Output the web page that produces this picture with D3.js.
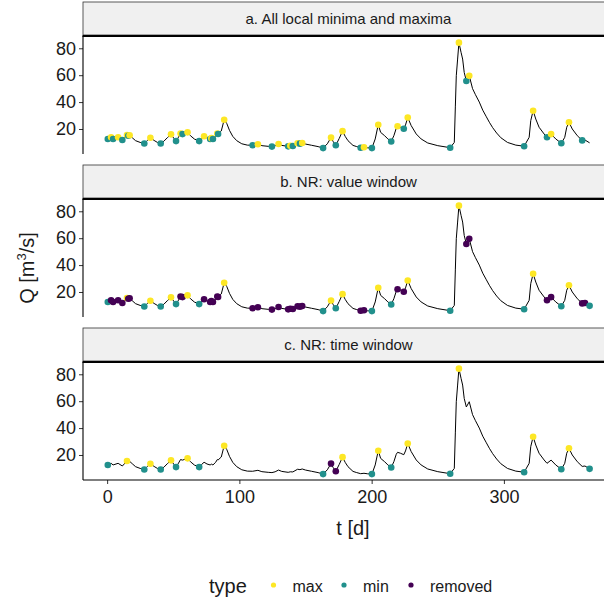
<!DOCTYPE html>
<html>
<head>
<meta charset="utf-8">
<script src="https://cdn.jsdelivr.net/npm/d3@7"></script>
<style>
  body { margin: 0; background: #fff; }
  svg { display: block; font-family: Arial, "Liberation Sans", sans-serif; }
</style>
</head>
<body>
<div id="chart"></div>
<script>
// hydrograph (t in days, Q in m3/s)
var flowT = [0.5, 3, 4.5, 8.3, 11.5, 15, 16, 17, 19, 21.5, 25, 28.1, 30.5, 32.7, 35.5, 38, 40.5, 43, 45.5, 48.3,
  50.5, 52.1, 54, 55.5, 57, 60.8, 63, 66, 69.6, 71.5, 73.3, 75.5, 77.9, 78.8, 80, 82, 83.3, 83.9, 86.3, 88.5,
  90.5, 92.5, 95, 98, 101.8, 106, 110, 114, 117, 121.8, 124.6, 127, 129.6, 132, 136.9, 138.5, 140.4, 144, 145.8, 147.5,
  150, 154.5, 159.5, 163.3, 166.5, 169.3, 171, 172.9, 175.5, 178, 180, 182.1, 185.9, 188.4, 191.7, 194.2, 197, 200.2,
  202.7, 205, 206.8, 209.8, 212.3, 214.8, 216.8, 218.6, 219.6, 221.8, 224.3, 225.6, 227.3, 229.9, 233.7, 237.4, 242.4,
  250, 259.4, 262.5, 263.3, 264, 265, 266, 267.6, 268.8, 270, 271.6, 273.8, 276.3, 278.5, 281.4, 284, 286.5, 289,
  291.5, 294.5, 297.7, 302.7, 309, 315.3, 319.1, 320.3, 322.1, 324.1, 326.6, 330.4, 332.6, 335.7, 339.2, 343.4, 346,
  347.5, 349.2, 351.7, 355.5, 359.2, 361.3, 364.8];
var flowQ = [12.6, 13.8, 12.6, 13.8, 11.8, 15.5, 15.0, 15.3, 13.5, 11.3, 10, 9.2, 11.5, 13.5, 11.5, 10, 9.2, 11, 13.5, 16,
  13, 11, 14, 16.6, 16.2, 17.5, 15, 12.5, 11, 13, 14.6, 13.3, 12.6, 13.2, 12.6, 14.5, 16.6, 16.3, 18.5, 26.9,
  24, 19, 14.5, 11.3, 9, 8, 7.9, 8.6, 7.6, 7.1, 6.9, 7.5, 8.8, 7.8, 7.1, 7.5, 7.4, 9.4, 9.1, 9.6,
  8.8, 7.9, 6.9, 5.8, 9, 13.6, 10.5, 7.9, 13, 18.4, 14.5, 11.3, 7.8, 7.0, 6.1, 6.4, 6.0, 5.8,
  12.6, 23.2, 17.5, 15, 12.6, 10.7, 15, 20.5, 22, 21.3, 20.2, 23, 28.5, 22.5, 16.3, 12.6, 9.6,
  7.6, 6.1, 10, 37, 59.6, 72, 84.2, 77, 72, 62, 55.7, 59.6, 50, 45.5, 40, 34, 29.5, 25,
  21, 17, 13.5, 10, 8, 7.2, 13.8, 26.2, 33.6, 27.4, 21.3, 16.3, 13.8, 16.2, 12.6, 9.4, 13.8,
  21.3, 25, 20, 15, 11.5, 11.8, 9.7];

// local extrema (all of them, as in panel a)
var extT = [0.5, 3, 4.5, 8.3, 11.5, 15, 16, 17, 28.1, 32.7, 40.5, 48.3, 52.1, 55.5, 57, 60.8, 69.6, 73.3, 77.9, 78.8,
  80, 83.3, 83.9, 88.5, 110, 114, 124.6, 129.6, 136.9, 138.5, 140.4, 144, 145.8, 147.5, 163.3, 169.3, 172.9, 178,
  191.7, 194.2, 200.2, 205, 214.8, 219.6, 224.3, 227.3, 259.4, 266, 271.6, 273.8, 315.3, 322.1, 332.6, 335.7,
  343.4, 349.2, 359.2, 361.3, 364.8];
var extQ = [12.6, 13.8, 12.6, 13.8, 11.8, 15.5, 15.0, 15.3, 9.2, 13.5, 9.2, 16, 11, 16.6, 16.2, 17.5, 11, 14.6, 12.6, 13.2,
  12.6, 16.6, 16.3, 26.9, 7.9, 8.6, 6.9, 8.8, 7.1, 7.5, 7.4, 9.4, 9.1, 9.6, 5.8, 13.6, 7.9, 18.4,
  6.1, 6.4, 5.8, 23.2, 10.7, 22, 20.2, 28.5, 6.1, 84.2, 55.7, 59.6, 7.2, 33.6, 13.8, 16.2,
  9.4, 25, 11.5, 11.8, 9.7];

// type of each extremum per panel: x = max, n = min, r = removed, - = not shown
var typeA = "n x n x n x n x n x n x n x n x n x n x n x n x n x n x n x n x n x n x n x n x n x n x n x n x n x n x n x n x n".split(" ");
var typeB = "n r r r r x r r n x n x n r r x n r r r r r r x r r r r r r r r r r n x n x r r n x n r r x n x r r n x r r n x r r n".split(" ");
var typeC = "n - - - - x - - n x n x n - - x n - - - - - - x - - - - - - - - - - n r r x - - n x n - - x n x - - n x - - n x - - n".split(" ");

var panelTitles = ["a. All local minima and maxima", "b. NR: value window", "c. NR: time window"];
var panelTypes = [typeA, typeB, typeC];
var xTicks = [0, 100, 200, 300];
var yTicks = [20, 40, 60, 80];
var legendKeys = ["max", "min", "removed"];

var codeName = { x: "max", n: "min", r: "removed" };
var colours = { max: "#FDE725", min: "#21908C", removed: "#440154" };

var width = 604, height = 604;
var left = 83, right = 614;
var panelTop = [37, 200, 363], panelH = 117, stripH = 33;

var x = d3.scaleLinear().domain([-18.25, 383.25]).range([left, right]);
var y = d3.scaleLinear().domain([1.4, 88.4]).range([panelH, 0]);

var svg = d3.select("#chart").append("svg")
  .attr("width", width)
  .attr("height", height);

var flow = flowT.map(function(t, i) { return { t: t, q: flowQ[i] }; });
var line = d3.line().x(function(d) { return x(d.t); }).y(function(d) { return y(d.q); });

panelTitles.forEach(function(title, p) {
  var top = panelTop[p];

  // strip
  svg.append("rect")
    .attr("x", left).attr("y", top - stripH - 2)
    .attr("width", right - left + 5).attr("height", stripH)
    .attr("fill", "#F0F0F0").attr("stroke", "#333").attr("stroke-width", 0.8);
  svg.append("text")
    .attr("x", (left + right) / 2).attr("y", top - stripH / 2 - 2)
    .attr("text-anchor", "middle").attr("dominant-baseline", "central")
    .style("font-size", "15px").style("fill", "#1a1a1a")
    .text(title);

  var g = svg.append("g").attr("transform", "translate(0," + top + ")");

  // y axis
  var yAxis = g.append("g").attr("transform", "translate(" + left + ",0)")
    .call(d3.axisLeft(y).tickValues(yTicks).tickSize(4).tickPadding(3));
  yAxis.select(".domain").remove();
  yAxis.selectAll("line").attr("stroke", "#333");
  yAxis.selectAll("text").style("font-size", "18px").style("fill", "#1a1a1a")
    .style("font-family", "Arial, 'Liberation Sans', sans-serif");
  g.append("line").attr("x1", left).attr("x2", left).attr("y1", -1).attr("y2", panelH)
    .attr("stroke", "#000").attr("stroke-width", 1.1);

  // thick rule under the strip
  g.append("line").attr("x1", left - 0.5).attr("x2", width).attr("y1", -1).attr("y2", -1)
    .attr("stroke", "#000").attr("stroke-width", 2.2);

  g.append("path").datum(flow)
    .attr("d", line)
    .attr("fill", "none").attr("stroke", "#000").attr("stroke-width", 1);

  var pts = extT.map(function(t, i) {
    return { t: t, q: extQ[i], type: codeName[panelTypes[p][i]] };
  }).filter(function(d) { return d.type; });

  g.selectAll(".pt").data(pts).enter().append("circle")
    .attr("class", "pt")
    .attr("cx", function(d) { return x(d.t); })
    .attr("cy", function(d) { return y(d.q); })
    .attr("r", 3.3)
    .attr("fill", function(d) { return colours[d.type]; });

  if (p === panelTitles.length - 1) {
    var xAxis = g.append("g").attr("transform", "translate(0," + panelH + ")")
      .call(d3.axisBottom(x).tickValues(xTicks).tickSize(4).tickPadding(6));
    xAxis.select(".domain").remove();
    xAxis.selectAll("line").attr("stroke", "#333");
    xAxis.selectAll("text").style("font-size", "18px").style("fill", "#1a1a1a")
      .style("font-family", "Arial, 'Liberation Sans', sans-serif");
    g.append("line").attr("x1", left).attr("x2", width).attr("y1", panelH).attr("y2", panelH)
      .attr("stroke", "#000").attr("stroke-width", 1.1);
  }
});

// axis titles
svg.append("text")
  .attr("x", 353).attr("y", 535)
  .attr("text-anchor", "middle")
  .style("font-size", "20px").style("fill", "#1a1a1a")
  .text("t [d]");

var yTitle = svg.append("text")
  .attr("transform", "translate(34,268) rotate(-90)")
  .attr("text-anchor", "middle")
  .style("font-size", "20px").style("fill", "#1a1a1a");
yTitle.append("tspan").text("Q [m");
yTitle.append("tspan").attr("dy", -8).style("font-size", "13px").text("3");
yTitle.append("tspan").attr("dy", 8).text("/s]");

// legend
var legend = svg.append("g").attr("transform", "translate(0,586)");
legend.append("text")
  .attr("x", 209).attr("y", 0).attr("dominant-baseline", "central")
  .style("font-size", "20px").style("fill", "#1a1a1a")
  .text("type");
var keyX = [273.5, 344, 411];
legendKeys.forEach(function(k, i) {
  legend.append("circle").attr("cx", keyX[i]).attr("cy", -1).attr("r", 2.6).attr("fill", colours[k]);
  legend.append("text")
    .attr("x", keyX[i] + 19).attr("y", 0).attr("dominant-baseline", "central")
    .style("font-size", "16px").style("fill", "#1a1a1a")
    .text(k);
});
</script>
</body>
</html>
